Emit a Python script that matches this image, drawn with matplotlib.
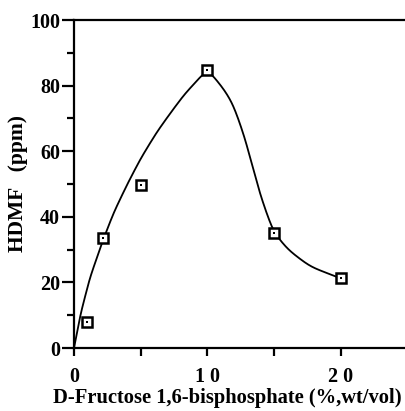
import numpy as np
import matplotlib
matplotlib.use("Agg")
import matplotlib.pyplot as plt

# Measured data points
conc = [1.0, 2.2, 5.0, 10.0, 15.0, 20.0]
hdmf = [8.0, 33.5, 49.8, 84.8, 35.0, 21.2]

# Hand-drawn smooth curve trace
curve_x = [0.0, 0.5, 1.2, 2.2, 3.0, 4.0, 5.0, 6.2, 7.2, 8.3, 9.2, 10.0,
           10.56, 11.18, 11.81, 12.3, 12.8, 13.18, 13.56, 13.93, 14.43, 14.98, 16.05, 17.7, 20.0]
curve_y = [0.0, 10.5, 21.5, 33.2, 41.5, 50.0, 57.8, 65.8, 71.5, 77.5, 81.4, 85.2,
           82.2, 79.2, 75.1, 70.0, 63.9, 58.3, 52.7, 47.2, 41.1, 35.2, 29.9, 24.8, 21.2]

xticks = [0, 10, 20]
xticklabels = ["0", "1 0", "2 0"]
yticks = [0, 20, 40, 60, 80, 100]

# approximate display scale (px per data unit) used only to smooth evenly
SX, SY = 13.35, 3.28


def smooth_trace(x, y, sigma_px=7.0):
    P = np.column_stack([np.asarray(x, float) * SX, np.asarray(y, float) * SY])
    seg = np.linalg.norm(np.diff(P, axis=0), axis=1)
    s = np.concatenate([[0], np.cumsum(seg)])
    su = np.arange(0, s[-1], 0.5)
    su = np.append(su, s[-1])
    px = np.interp(su, s, P[:, 0])
    py = np.interp(su, s, P[:, 1])
    k = int(4 * sigma_px / 0.5)
    g = np.exp(-0.5 * (np.arange(-k, k + 1) * 0.5 / sigma_px) ** 2)
    g /= g.sum()

    def conv(v):
        left = 2 * v[0] - v[1:k + 1][::-1]
        right = 2 * v[-1] - v[-k - 1:-1][::-1]
        vv = np.concatenate([left, v, right])
        return np.convolve(vv, g, mode='valid')

    return conv(px) / SX, conv(py) / SY


plt.rcParams['font.family'] = ['Liberation Serif', 'DejaVu Serif']
plt.rcParams['font.weight'] = 'bold'

fig = plt.figure(figsize=(4.05, 4.11), dpi=100)
ax = fig.add_axes([74 / 405, 1 - 348 / 411, 331 / 405, 328 / 411])

cx, cy = smooth_trace(curve_x, curve_y)
ax.plot(cx, cy, color='black', lw=1.3, zorder=2, clip_on=False)
ax.plot(conc, hdmf, linestyle='none', marker='s', markersize=7.2, markerfacecolor='white',
        markeredgecolor='black', markeredgewidth=1.8, zorder=3, clip_on=False)
ax.plot(conc, hdmf, linestyle='none', marker='s', markersize=1.6, markerfacecolor='black',
        markeredgecolor='black', markeredgewidth=0, zorder=4, clip_on=False)

ax.set_xlim(0, 24.8)
ax.set_ylim(0, 100)

ax.spines['right'].set_visible(False)
for s in ['left', 'bottom', 'top']:
    ax.spines[s].set_linewidth(1.6)

ax.set_xticks(xticks)
ax.set_xticklabels(xticklabels)
ax.set_xticks([5, 15], minor=True)
ax.set_yticks(yticks)
ax.set_yticks([10, 30, 50, 70, 90], minor=True)

ax.tick_params(axis='both', which='major', direction='out', width=1.6, labelsize=14.5)
ax.tick_params(axis='y', which='major', length=9, pad=1)
ax.tick_params(axis='y', which='minor', length=5, width=1.6, direction='out')
ax.tick_params(axis='x', which='major', length=6, pad=8)
ax.tick_params(axis='x', which='minor', length=6, width=1.6, direction='out')

fig.text(227.5 / 405, 1 - 398 / 411, "D-Fructose 1,6-bisphosphate (%,wt/vol)",
         fontsize=14.8, fontweight='bold', ha='center', va='center')
ax.set_ylabel("HDMF   (ppm)", fontsize=15.5, fontweight='bold')
ax.yaxis.set_label_coords(-0.139, 0.5)

fig.savefig("out.png", dpi=100)
